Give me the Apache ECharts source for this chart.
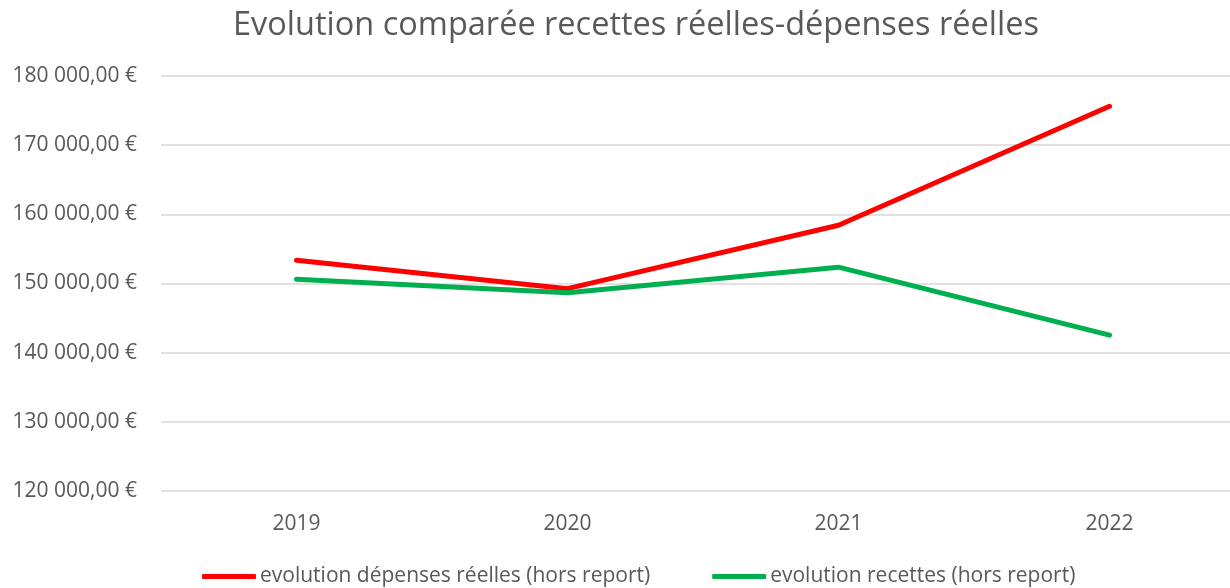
<!DOCTYPE html>
<html>
<head>
<meta charset="utf-8">
<script src="https://cdn.jsdelivr.net/npm/echarts@6/dist/echarts.min.js"></script>
<style>html,body{margin:0;padding:0;background:#fff;overflow:hidden}#c{width:1246px;height:588px}</style>
</head>
<body>
<div id="c"></div>
<script>
const titleText = "Evolution comparée recettes réelles-dépenses réelles";
const categories = ["2019", "2020", "2021", "2022"];
const depenses = [153370, 149250, 158420, 175620];
const recettes = [150620, 148670, 152360, 142530];
const seriesNames = ["evolution dépenses réelles (hors report)", "evolution recettes (hors report)"];
const yMin = 120000, yMax = 180000, yStep = 10000;

function fmt(v) {
  const s = String(Math.round(v)).replace(/\B(?=(\d{3})+(?!\d))/g, " ");
  return s + ",00 €";
}

const FONT = "Open Sans";
const chart = echarts.init(document.getElementById('c'), null, {renderer: 'canvas'});
chart.setOption({
  animation: false,
  backgroundColor: '#fff',
  title: {
    text: titleText, left: 228, top: 4,
    textStyle: {fontFamily: FONT, fontSize: 32.5, fontWeight: 'normal', color: '#595959'}
  },
  legend: {
    top: 561, left: 197,
    icon: 'roundRect', itemWidth: 54, itemHeight: 5, itemGap: 62,
    textStyle: {fontFamily: FONT, fontSize: 21, color: '#595959', padding: [0,0,0,-1]},
    data: seriesNames
  },
  grid: {left: 161, right: 1, top: 76, bottom: 97, containLabel: false},
  xAxis: {
    type: 'category', data: categories, boundaryGap: true,
    axisLine: {show: false}, axisTick: {show: false},
    axisLabel: {fontFamily: FONT, fontSize: 21, color: '#595959', margin: 23}
  },
  yAxis: {
    type: 'value', min: yMin, max: yMax, interval: yStep,
    axisLine: {show: false}, axisTick: {show: false},
    splitLine: {lineStyle: {color: '#d9d9d9', width: 1.5}},
    axisLabel: {fontFamily: FONT, fontSize: 21, color: '#595959', margin: 24, formatter: fmt}
  },
  series: [
    {name: seriesNames[0], type: 'line', data: depenses, symbol: 'none',
     lineStyle: {color: '#ff0000', width: 5, cap: 'round', join: 'round'}, itemStyle: {color: '#ff0000'}},
    {name: seriesNames[1], type: 'line', data: recettes, symbol: 'none',
     lineStyle: {color: '#00b050', width: 5, cap: 'round', join: 'round'}, itemStyle: {color: '#00b050'}}
  ]
});
</script>
</body>
</html>
